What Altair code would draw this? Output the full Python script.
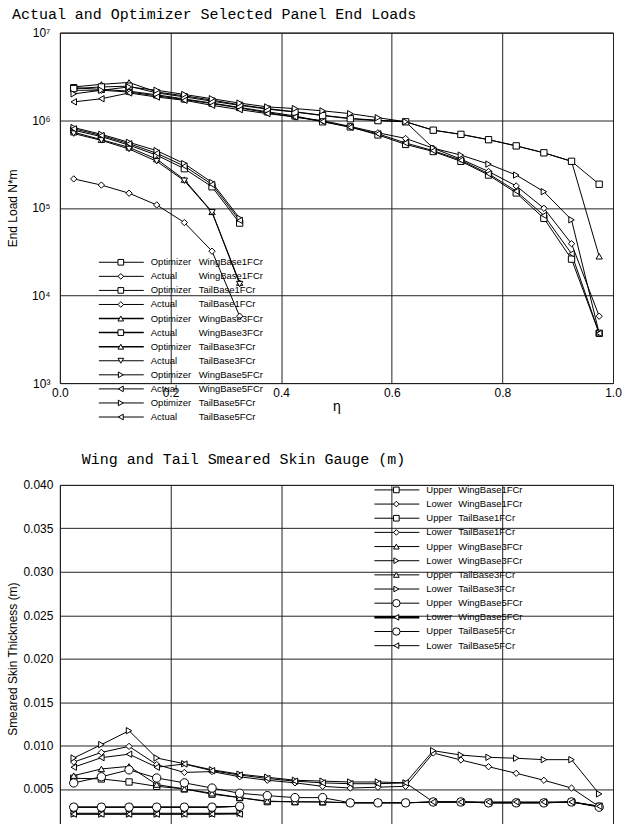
import altair as alt
import pandas as pd

# ---------------- data ----------------
ETA_WING = [0.025, 0.075, 0.125, 0.175, 0.225, 0.275, 0.325, 0.375, 0.425, 0.475,
            0.525, 0.575, 0.625, 0.675, 0.725, 0.775, 0.825, 0.875, 0.925, 0.975]
ETA_TAIL = [0.025, 0.075, 0.125, 0.175, 0.225, 0.275, 0.325]

# Top chart: end loads (N*m)
OPT_WING1 = [2.35e6, 2.25e6, 2.15e6, 1.95e6, 1.75e6, 1.57e6, 1.40e6, 1.25e6, 1.12e6, 9.6e5,
             8.4e5, 6.8e5, 5.3e5, 4.4e5, 3.4e5, 2.37e5, 1.48e5, 7.6e4, 2.6e4, 3.7e3]
ACT_WING1 = [2.2e6, 2.2e6, 2.1e6, 1.9e6, 1.72e6, 1.55e6, 1.38e6, 1.22e6, 1.09e6, 9.9e5,
             8.5e5, 7.2e5, 6.2e5, 4.8e5, 3.6e5, 2.6e5, 1.78e5, 9.9e4, 3.9e4, 5.8e3]
OPT_WING3 = [2.4e6, 2.57e6, 2.7e6, 2.1e6, 1.9e6, 1.7e6, 1.5e6, 1.36e6, 1.25e6, 1.14e6,
             1.05e6, 1.0e6, 9.6e5, 7.7e5, 6.9e5, 6.0e5, 5.1e5, 4.25e5, 3.4e5, 2.8e4]
ACT_WING3 = [2.3e6, 2.4e6, 2.45e6, 2.05e6, 1.85e6, 1.65e6, 1.48e6, 1.34e6, 1.24e6, 1.13e6,
             1.04e6, 9.9e5, 9.6e5, 7.7e5, 6.9e5, 6.0e5, 5.1e5, 4.25e5, 3.4e5, 1.86e5]
OPT_WING5 = [2.0e6, 2.2e6, 2.4e6, 2.2e6, 1.97e6, 1.76e6, 1.57e6, 1.42e6, 1.36e6, 1.28e6,
             1.19e6, 1.07e6, 9.6e5, 4.8e5, 4.0e5, 3.16e5, 2.37e5, 1.53e5, 7.3e4, 3.7e3]
ACT_WING5 = [1.62e6, 1.76e6, 2.05e6, 1.84e6, 1.69e6, 1.48e6, 1.32e6, 1.19e6, 1.09e6, 9.7e5,
             8.3e5, 7.0e5, 5.5e5, 4.5e5, 3.5e5, 2.45e5, 1.55e5, 8.2e4, 3.0e4, 3.7e3]
OPT_TAIL1 = [7.7e5, 6.5e5, 5.2e5, 4.0e5, 2.8e5, 1.74e5, 6.7e4]
ACT_TAIL1 = [2.14e5, 1.82e5, 1.47e5, 1.08e5, 6.8e4, 3.2e4, 5.8e3]
OPT_TAIL3 = [7.3e5, 6.0e5, 4.9e5, 3.6e5, 2.1e5, 9.0e4, 1.4e4]
ACT_TAIL3 = [7.05e5, 5.9e5, 4.7e5, 3.4e5, 2.04e5, 8.9e4, 1.35e4]
OPT_TAIL5 = [8.26e5, 6.9e5, 5.6e5, 4.5e5, 3.2e5, 1.95e5, 7.6e4]
ACT_TAIL5 = [8.0e5, 6.7e5, 5.4e5, 4.2e5, 3.0e5, 1.85e5, 7.2e4]

TOP_SOURCE = ["Optimizer", "Actual", "Optimizer", "Actual", "Optimizer", "Actual",
              "Optimizer", "Actual", "Optimizer", "Actual", "Optimizer", "Actual"]
TOP_CASE = ["WingBase1FCr", "WingBase1FCr", "TailBase1FCr", "TailBase1FCr",
            "WingBase3FCr", "WingBase3FCr", "TailBase3FCr", "TailBase3FCr",
            "WingBase5FCr", "WingBase5FCr", "TailBase5FCr", "TailBase5FCr"]
TOP_SHAPES = ["square", "diamond", "square", "diamond", "triangle-up", "square",
              "triangle-up", "triangle-down", "triangle-right", "triangle-left",
              "triangle-right", "triangle-left"]
TOP_VALUES = [OPT_WING1, ACT_WING1, OPT_TAIL1, ACT_TAIL1, OPT_WING3, ACT_WING3,
              OPT_TAIL3, ACT_TAIL3, OPT_WING5, ACT_WING5, OPT_TAIL5, ACT_TAIL5]
TOP_LW = [1, 1, 1, 1, 1.5, 1.5, 1.5, 1, 1, 1, 1, 1]

# Bottom chart: smeared skin thickness (m)
UP_WING1 = [0.00623, 0.00615, 0.0058, 0.0053, 0.0050, 0.0044, 0.0040, 0.00354, 0.00354, 0.0035,
            0.0034, 0.0034, 0.0034, 0.0035, 0.0035, 0.0034, 0.0034, 0.0034, 0.0035, 0.0030]
LO_WING1 = [0.0081, 0.0092, 0.0099, 0.0078, 0.0069, 0.0070, 0.0064, 0.0060, 0.0057, 0.0053,
            0.0051, 0.0052, 0.0053, 0.00914, 0.00833, 0.00756, 0.0068, 0.0060, 0.0051, 0.00297]
UP_WING3 = [0.00653, 0.0073, 0.0076, 0.0055, 0.0050, 0.0045, 0.0040, 0.0036, 0.0035, 0.0035,
            0.0034, 0.0034, 0.0034, 0.0035, 0.0035, 0.0034, 0.0034, 0.0034, 0.0035, 0.0030]
LO_WING3 = [0.00856, 0.0101, 0.0117, 0.00856, 0.0079, 0.0072, 0.0067, 0.00635, 0.0060, 0.0059,
            0.0058, 0.0058, 0.0057, 0.0094, 0.0089, 0.00864, 0.00853, 0.00837, 0.00837, 0.00443]
UP_WING5 = [0.00569, 0.0064, 0.0072, 0.00626, 0.0057, 0.0051, 0.0045, 0.00423, 0.0040, 0.0040,
            0.0034, 0.0034, 0.0034, 0.0035, 0.0035, 0.0034, 0.0034, 0.0034, 0.0035, 0.0029]
LO_WING5 = [0.0075, 0.0086, 0.0090, 0.0075, 0.00787, 0.0071, 0.0066, 0.0062, 0.0059, 0.0057,
            0.0056, 0.0056, 0.0057, 0.0035, 0.0035, 0.0035, 0.0035, 0.0035, 0.0035, 0.0030]
UP_TAIL1 = [0.0029, 0.0029, 0.0029, 0.0029, 0.0029, 0.0029, 0.0030]
LO_TAIL1 = [0.0022, 0.0022, 0.0022, 0.0022, 0.0022, 0.0022, 0.0022]
UP_TAIL3 = [0.0029, 0.0029, 0.0029, 0.0029, 0.0029, 0.0029, 0.0030]
LO_TAIL3 = [0.0021, 0.0021, 0.0021, 0.0021, 0.0021, 0.0021, 0.0022]
UP_TAIL5 = [0.0029, 0.0029, 0.0029, 0.0029, 0.0029, 0.0029, 0.0030]
LO_TAIL5 = [0.0021, 0.0021, 0.0021, 0.0021, 0.0021, 0.0021, 0.0021]

BOT_SURFACE = ["Upper", "Lower", "Upper", "Lower", "Upper", "Lower",
               "Upper", "Lower", "Upper", "Lower", "Upper", "Lower"]
BOT_CASE = TOP_CASE
BOT_SHAPES = ["square", "diamond", "square", "diamond", "triangle-up", "triangle-right",
              "triangle-up", "triangle-right", "circle", "triangle-left",
              "circle", "triangle-left"]
BOT_SIZES = [40, 40, 40, 40, 40, 40, 40, 40, 70, 40, 70, 40]
BOT_VALUES = [UP_WING1, LO_WING1, UP_TAIL1, LO_TAIL1, UP_WING3, LO_WING3,
              UP_TAIL3, LO_TAIL3, UP_WING5, LO_WING5, UP_TAIL5, LO_TAIL5]
BOT_LW = [1, 1, 1, 1, 1, 1, 1, 1, 1, 2.5, 1, 1]


def long_table(first, cases, shapes, values, sizes):
    rows = []
    for i, (a, c, s, vals) in enumerate(zip(first, cases, shapes, values)):
        etas = ETA_WING if c.startswith("Wing") else ETA_TAIL
        for e, v in zip(etas, vals):
            rows.append({"eta": e, "v": v, "series": f"{a} {c}", "shape": s,
                         "size": sizes[i]})
    return pd.DataFrame(rows)


def legend_table(first, cases, shapes, lws, sizes):
    return pd.DataFrame({"row": list(range(len(first))), "c1": first, "c2": cases,
                         "shape": shapes, "lw": lws, "size": sizes})


top_df = long_table(TOP_SOURCE, TOP_CASE, TOP_SHAPES, TOP_VALUES, [40] * 12)
bot_df = long_table(BOT_SURFACE, BOT_CASE, BOT_SHAPES, BOT_VALUES, BOT_SIZES)
top_leg = legend_table(TOP_SOURCE, TOP_CASE, TOP_SHAPES, TOP_LW, [32] * 12)
bot_leg = legend_table(BOT_SURFACE, BOT_CASE, BOT_SHAPES, BOT_LW,
                       [32, 32, 32, 32, 32, 32, 32, 32, 55, 32, 55, 32])

SANS = "Liberation Sans"
MONO = "Liberation Mono"
GRID = "#222222"
W = 554


def data_layers(df, y_enc, x_title):
    x_enc = alt.X("eta:Q", scale=alt.Scale(domain=[0, 1]),
                  axis=alt.Axis(values=[0, 0.2, 0.4, 0.6, 0.8, 1.0], format=".1f",
                                grid=True, gridColor=GRID, gridOpacity=1, ticks=False,
                                domain=False, labelFont=SANS, labelFontSize=12,
                                labelColor="black", labelPadding=4, labelFlush=False,
                                title=x_title, titleFont=SANS, titleFontSize=14,
                                titleFontWeight="normal", titlePadding=1))
    lines = alt.Chart(df).mark_line(color="black", strokeWidth=1).encode(
        x=x_enc, y=y_enc, detail="series:N", order="eta:Q")
    points = alt.Chart(df).mark_point(filled=True, color="white", stroke="black",
                                      strokeWidth=1, opacity=1).encode(
        x="eta:Q", y=alt.Y("v:Q"), shape=alt.Shape("shape:N", scale=None),
        size=alt.Size("size:Q", scale=None), detail="series:N")
    return alt.layer(lines, points)


def legend_layers(leg, r0, r1, xl0, xl1, xm, xt1, xt2):
    ly = alt.Y("row:Q", scale=alt.Scale(domain=[0, 11], range=[r0, r1]), axis=None)
    rule = alt.Chart(leg).mark_rule(color="black").encode(
        x=alt.value(xl0), x2=alt.value(xl1), y=ly,
        strokeWidth=alt.StrokeWidth("lw:Q", scale=None))
    pt = alt.Chart(leg).mark_point(filled=True, color="white", stroke="black",
                                   strokeWidth=1, opacity=1).encode(
        x=alt.value(xm), y=ly, shape=alt.Shape("shape:N", scale=None),
        size=alt.Size("size:Q", scale=None))
    t1 = alt.Chart(leg).mark_text(align="left", baseline="middle", font=SANS,
                                  fontSize=9.5, color="black").encode(
        x=alt.value(xt1), y=ly, text="c1:N")
    t2 = alt.Chart(leg).mark_text(align="left", baseline="middle", font=SANS,
                                  fontSize=9.5, color="black").encode(
        x=alt.value(xt2), y=ly, text="c2:N")
    return [rule, pt, t1, t2]


# ---------- top chart ----------
top_y = alt.Y("v:Q", scale=alt.Scale(type="log", domain=[1e3, 1e7]),
              axis=alt.Axis(values=[1e3, 1e4, 1e5, 1e6, 1e7],
                            labelExpr="'10' + ['\u2070','\u00b9','\u00b2','\u00b3','\u2074','\u2075','\u2076','\u2077'][round(log(datum.value)/LN10)]",
                            grid=True, gridColor=GRID, gridOpacity=1, ticks=False,
                            domain=False, labelFont=SANS, labelFontSize=12,
                            labelColor="black", labelPadding=10,
                            title="End Load N*m", titleFont=SANS, titleFontSize=12,
                            titleFontWeight="normal", titlePadding=12))

top = alt.layer(
    data_layers(top_df, top_y, "\u03b7"),
    *legend_layers(top_leg, 230, 385, 39, 84, 61, 91, 139)
).resolve_scale(y="independent").properties(
    width=W, height=351,
    title=alt.TitleParams("Actual and Optimizer Selected Panel End Loads",
                          anchor="start", frame="group", dx=-48, offset=5,
                          font=MONO, fontSize=15, fontWeight="normal", color="black"))

# ---------- bottom chart ----------
bot_y = alt.Y("v:Q", scale=alt.Scale(domain=[0, 0.04]),
              axis=alt.Axis(values=[0, 0.005, 0.01, 0.015, 0.02, 0.025, 0.03, 0.035, 0.04],
                            format=".3f", grid=True, gridColor=GRID, gridOpacity=1,
                            ticks=False, domain=False, labelFont=SANS, labelFontSize=12,
                            labelColor="black", labelPadding=7,
                            title="Smeared Skin Thickness (m)", titleFont=SANS,
                            titleFontSize=12, titleFontWeight="normal", titlePadding=3))

bottom = alt.layer(
    data_layers(bot_df, bot_y, "\u03b7"),
    *legend_layers(bot_leg, 5, 161, 315, 360, 337, 367, 399)
).resolve_scale(y="independent").properties(
    width=W, height=348,
    title=alt.TitleParams("Wing and Tail Smeared Skin Gauge (m)",
                          anchor="start", frame="group", dx=22, offset=12,
                          font=MONO, fontSize=15, fontWeight="normal", color="black"))

chart = alt.vconcat(top, bottom, spacing=28).properties(
    padding={"left": 5, "top": 5, "right": 0, "bottom": 5},
    background="white"
).configure_view(stroke="black", strokeWidth=1)

chart.save("out.html", embed_options={"renderer": "svg", "actions": False})
